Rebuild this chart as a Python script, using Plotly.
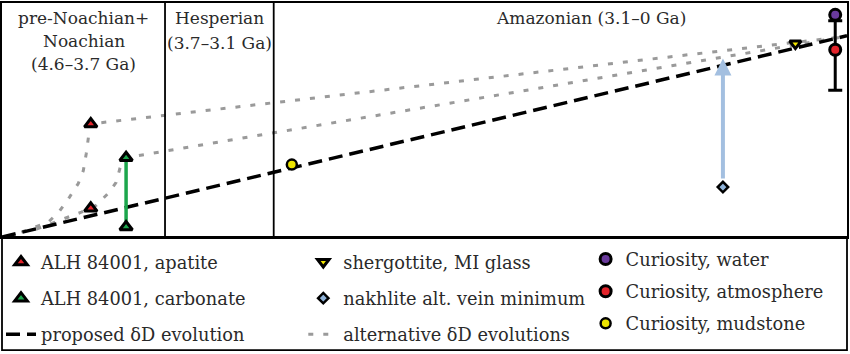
import plotly.graph_objects as go

# ---- data (x = age in Ga, y = deltaD in permil, schematic) ----
apatite_age = [4.11, 4.11]
apatite_dD = [3620, 920]
carbonate_age = [3.915, 3.915]
carbonate_dD = [2540, 320]
mudstone_age = [3.0]
mudstone_dD = [2320]
nakhlite_age = [0.62]
nakhlite_dD = [1600]
nakhlite_arrow_top = [5720]
shergottite_age = [0.22]
shergottite_dD = [6200]
water_age = [0.0]
water_dD = [7120]
atmos_age = [0.0]
atmos_dD = [6000]
atmos_err_plus = [930]
atmos_err_minus = [1300]
proposed_age = [4.6, -0.065]
proposed_dD = [0, 6450]
alt_upper_age = [4.493, 4.344, 4.283, 4.228, 4.179, 4.151, 4.135, 4.124, 4.113, -0.05]
alt_upper_dD = [159, 477, 826, 1271, 1716, 2129, 2669, 3242, 3623, 6420]
alt_lower_age = [4.41, 4.256, 4.162, 4.08, 4.014, 3.97, 3.942, 3.915, -0.05]
alt_lower_dD = [254, 604, 795, 1017, 1398, 1748, 2352, 2542, 6420]
epoch_bounds = [3.7, 3.1]
epoch_label_text = ["pre-Noachian+", "Noachian", "(4.6–3.7 Ga)",
                    "Hesperian", "(3.7–3.1 Ga)", "Amazonian (3.1–0 Ga)"]
epoch_label_age = [4.15, 4.15, 4.15, 3.4, 3.4, 1.35]
epoch_label_row = [0, 1, 2, 0, 1, 0]

X_RANGE = [4.6, -0.065]
Y_RANGE = [0, 7500]

FONT = "DejaVu Serif"
TXT = "#2a2a2a"

fig = go.Figure()

# alternative evolutions (dotted)
fig.add_trace(go.Scatter(
    x=alt_upper_age + [None] + alt_lower_age,
    y=alt_upper_dD + [None] + alt_lower_dD,
    mode="lines", name="alternative δD evolutions",
    line=dict(color="#9a9a9a", width=3, dash="5px,10px"),
    legend="legend2", legendgroup="alt", legendrank=3))

# proposed evolution (dashed)
fig.add_trace(go.Scatter(
    x=proposed_age, y=proposed_dD, mode="lines", name="proposed δD evolution",
    line=dict(color="black", width=3.5, dash="14px,7px"),
    legend="legend", legendgroup="prop", legendrank=3))

# carbonate range bar
fig.add_trace(go.Scatter(
    x=carbonate_age, y=carbonate_dD, mode="lines", showlegend=False,
    line=dict(color="#1ca64c", width=3.5), hoverinfo="skip"))

mk_line = dict(color="black", width=3)

fig.add_trace(go.Scatter(
    x=apatite_age, y=apatite_dD, mode="markers", name="ALH 84001, apatite",
    marker=dict(symbol="triangle-up", size=11, color="#e3242b", line=mk_line),
    legend="legend", legendgroup="apa", legendrank=1))
fig.add_trace(go.Scatter(
    x=carbonate_age, y=carbonate_dD, mode="markers", name="ALH 84001, carbonate",
    marker=dict(symbol="triangle-up", size=11, color="#1ca64c", line=mk_line),
    legend="legend", legendgroup="carb", legendrank=2))

fig.add_trace(go.Scatter(
    x=shergottite_age, y=shergottite_dD, mode="markers", name="shergottite, MI glass",
    marker=dict(symbol="triangle-down", size=10, color="#f2e600", line=mk_line),
    legend="legend2", legendgroup="sher", legendrank=1))
fig.add_trace(go.Scatter(
    x=nakhlite_age, y=nakhlite_dD, mode="markers", name="nakhlite alt. vein minimum",
    marker=dict(symbol="diamond", size=8, color="#8fb3d9", line=dict(color="black", width=2.5)),
    legend="legend2", legendgroup="nak", legendrank=2))

fig.add_trace(go.Scatter(
    x=water_age, y=water_dD, mode="markers", name="Curiosity, water",
    marker=dict(symbol="circle", size=11, color="#6a3a9c", line=mk_line),
    legend="legend3", legendgroup="wat", legendrank=1))
fig.add_trace(go.Scatter(
    x=atmos_age, y=atmos_dD, mode="markers", name="Curiosity, atmosphere",
    marker=dict(symbol="circle", size=11, color="#e3242b", line=mk_line),
    error_y=dict(type="data", symmetric=False, array=atmos_err_plus,
                 arrayminus=atmos_err_minus, color="black", thickness=3, width=7),
    legend="legend3", legendgroup="atm", legendrank=2))
fig.add_trace(go.Scatter(
    x=mudstone_age, y=mudstone_dD, mode="markers", name="Curiosity, mudstone",
    marker=dict(symbol="circle", size=10, color="#ece400", line=dict(color="black", width=2.5)),
    legend="legend3", legendgroup="mud", legendrank=3))

# nakhlite arrow
annotations = []
for a, lo, hi in zip(nakhlite_age, nakhlite_dD, nakhlite_arrow_top):
    annotations.append(dict(
        x=a, y=hi, ax=a, ay=lo, xref="x", yref="y", axref="x", ayref="y",
        showarrow=True, arrowhead=2, arrowsize=0.85, arrowwidth=4,
        arrowcolor="#a3bfe0", startstandoff=7, text=""))

# epoch labels
row_px = [16, 39.5, 63]
for t, a, r in zip(epoch_label_text, epoch_label_age, epoch_label_row):
    py = row_px[r] + (2 if (a < 3.7 and r > 0) else 0)
    annotations.append(dict(
        x=a, y=(237 - py) / 236, xref="x", yref="paper", text=t, showarrow=False,
        xanchor="center", yanchor="middle",
        font=dict(family=FONT, size=17, color=TXT)))

shapes = []
for b in epoch_bounds:
    shapes.append(dict(type="line", xref="x", yref="paper", x0=b, x1=b, y0=0, y1=1,
                       line=dict(color="black", width=1.8)))
# legend frame below plot
shapes.append(dict(type="rect", xref="paper", yref="paper", x0=0, x1=1,
                   y0=-(351 - 237) / 236, y1=0, line=dict(color="black", width=1.8)))

leg_common = dict(orientation="v", xanchor="left", yanchor="top",
                  bgcolor="rgba(0,0,0,0)", borderwidth=0, itemwidth=30,
                  font=dict(family=FONT, size=17.8, color=TXT), traceorder="grouped")

fig.update_layout(
    width=850, height=354,
    margin=dict(l=1, r=2, t=1, b=117),
    paper_bgcolor="white", plot_bgcolor="white",
    showlegend=True,
    xaxis=dict(range=X_RANGE, showgrid=False, zeroline=False, showticklabels=False,
               ticks="", showline=True, mirror=True, linecolor="black", linewidth=1.8),
    yaxis=dict(range=Y_RANGE, showgrid=False, zeroline=False, showticklabels=False,
               ticks="", showline=True, mirror=True, linecolor="black", linewidth=1.8),
    legend=dict(x=(0 - 1) / 847, y=(237 - 244) / 236, tracegroupgap=10, **leg_common),
    legend2=dict(x=(303 - 1) / 847, y=(237 - 244) / 236, tracegroupgap=10, **leg_common),
    legend3=dict(x=(586 - 1) / 847, y=(237 - 241) / 236, tracegroupgap=6, **leg_common),
    annotations=annotations,
    shapes=shapes,
)

fig.write_html("out.html")
